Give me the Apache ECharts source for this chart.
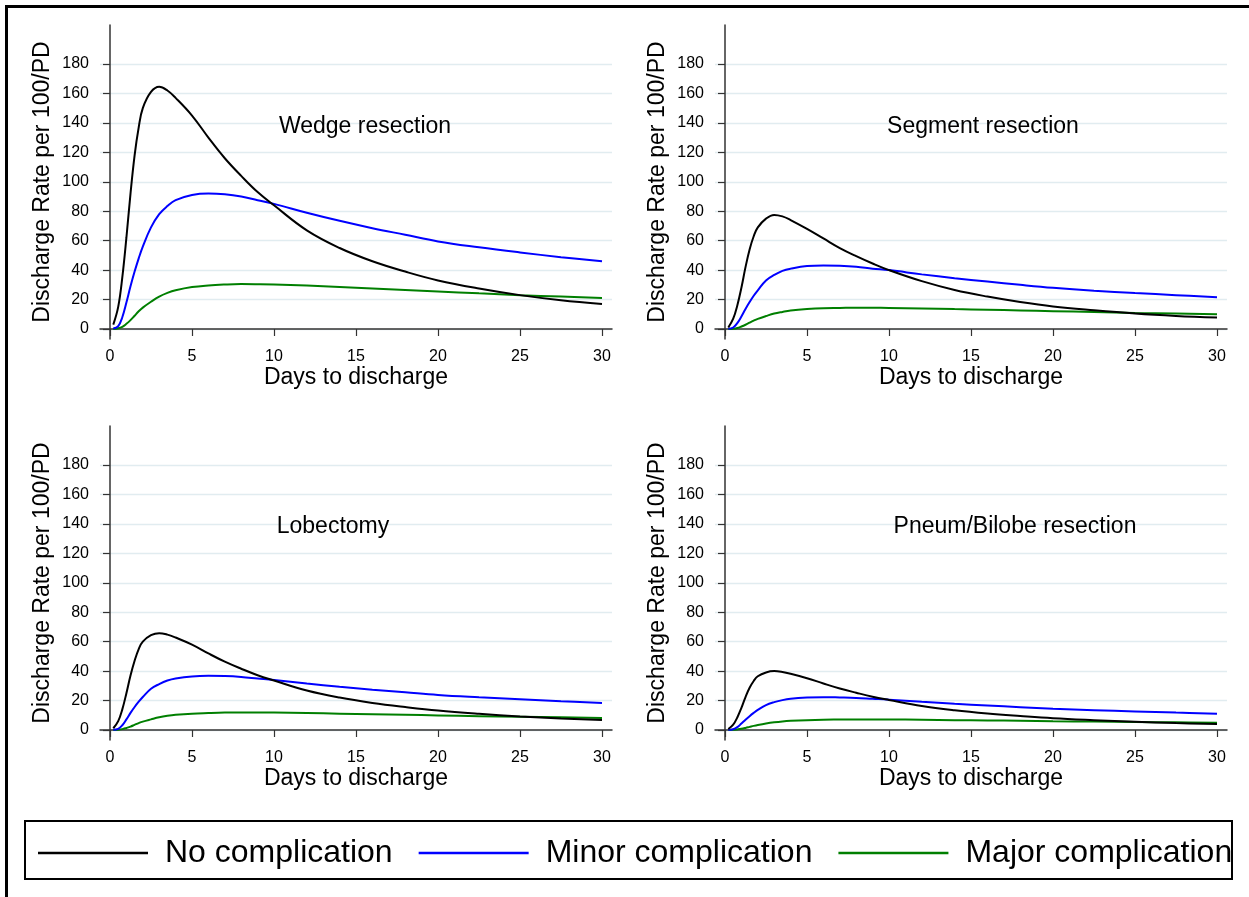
<!DOCTYPE html>
<html>
<head>
<meta charset="utf-8">
<script src="https://cdn.jsdelivr.net/npm/echarts@6/dist/echarts.min.js"></script>
<style>
  html, body { margin: 0; padding: 0; background: #fff; }
  #chart { width: 1249px; height: 897px; }
</style>
</head>
<body>
<div id="chart"></div>
<script>
// days since surgery at which the curves were read
const days = [0.2, 0.5, 0.75, 1, 1.25, 1.5, 1.75, 2, 2.5, 3, 3.5, 4, 5, 6, 7, 8, 9, 10, 12, 14, 16, 18, 20, 22.5, 25, 27.5, 30];

const wedgeNone  = [3, 15, 35, 62, 92, 118, 137, 150, 161, 164.5, 162, 157, 145, 130, 116, 104, 93, 84, 67, 55, 46, 39, 33, 27.5, 23, 19.5, 17];
const wedgeMinor = [0.3, 2, 8, 18, 29, 39, 48, 56, 69, 78, 83.5, 87.5, 91, 92, 91.5, 90, 87.5, 85, 79, 73.5, 68.5, 64, 59.5, 55.5, 52, 48.8, 46];
const wedgeMajor = [0, 0.5, 1.5, 3.5, 6, 9, 12, 14.5, 18.5, 22, 24.5, 26.3, 28.5, 29.6, 30.2, 30.5, 30.4, 30.2, 29.5, 28.5, 27.5, 26.5, 25.5, 24.2, 23, 22, 21];

const segNone  = [1, 7, 16, 28, 42, 54, 63, 69, 75, 77.5, 76.5, 74, 68, 61.5, 55, 49.5, 44.5, 40, 32.5, 26.5, 22, 18.3, 15.3, 12.7, 10.5, 8.9, 7.8];
const segMinor = [0.1, 1, 4, 8.5, 13.6, 18.3, 22.6, 26.3, 33, 36.7, 39.5, 41, 42.8, 43.2, 43, 42.3, 41, 40, 37.1, 34.5, 32.2, 30, 28, 26, 24.4, 23, 21.6];
const segMajor = [0, 0.2, 0.7, 1.7, 2.9, 4.3, 5.7, 6.9, 8.8, 10.5, 11.6, 12.5, 13.5, 14.1, 14.3, 14.5, 14.4, 14.3, 14, 13.5, 13.1, 12.6, 12.1, 11.5, 10.9, 10.5, 10];

const lobNone  = [1.2, 6, 14, 25, 37, 47, 55, 60, 64.4, 65.8, 64.8, 62.8, 58, 52, 46.4, 41.6, 37.2, 33.6, 26.8, 22, 18.4, 15.6, 13.2, 11, 9.2, 7.8, 6.8];
const lobMinor = [0.1, 0.8, 3.2, 7.2, 11.6, 15.6, 19.2, 22.4, 28, 31.2, 33.6, 35, 36.4, 36.8, 36.6, 36, 35, 34, 31.6, 29.4, 27.4, 25.6, 23.8, 22.2, 20.8, 19.5, 18.4];
const lobMajor = [0, 0.2, 0.6, 1.4, 2.3, 3.5, 4.7, 5.7, 7.2, 8.6, 9.6, 10.3, 11.1, 11.5, 11.8, 11.9, 11.9, 11.8, 11.5, 11.1, 10.7, 10.3, 9.9, 9.4, 9, 8.6, 8.2];

const pneumNone  = [0.7, 3.6, 8.5, 15, 22.4, 28.7, 33.3, 36.5, 39.1, 40, 39.4, 38.2, 35.2, 31.6, 28.2, 25.3, 22.6, 20.4, 16.3, 13.4, 11.2, 9.5, 8, 6.7, 5.6, 4.7, 4.1];
const pneumMinor = [0.1, 0.5, 1.9, 4.4, 7, 9.4, 11.6, 13.6, 16.9, 18.9, 20.3, 21.2, 22, 22.3, 22.1, 21.8, 21.2, 20.6, 19.1, 17.8, 16.6, 15.5, 14.4, 13.4, 12.6, 11.8, 11.1];
const pneumMajor = [0, 0.1, 0.4, 0.8, 1.4, 2.1, 2.8, 3.4, 4.4, 5.2, 5.8, 6.2, 6.7, 7, 7.1, 7.2, 7.2, 7.1, 7, 6.7, 6.5, 6.3, 6, 5.7, 5.4, 5.2, 5];

const panelTitles = ["Wedge resection", "Segment resection", "Lobectomy", "Pneum/Bilobe resection"];
const groupNames = ["No complication", "Minor complication", "Major complication"];
const xTicks = [0, 5, 10, 15, 20, 25, 30];
const yTicks = [0, 20, 40, 60, 80, 100, 120, 140, 160, 180];

const panelData = [
  [wedgeNone, wedgeMinor, wedgeMajor],
  [segNone, segMinor, segMajor],
  [lobNone, lobMinor, lobMajor],
  [pneumNone, pneumMinor, pneumMajor],
];

const FONT = "'Liberation Sans', Arial, Helvetica, sans-serif";
const colors = ["#000000", "#0000ff", "#007f00"];

// panel layout (pixels)
const gridPos = [
  { left: 100, top: 25 },
  { left: 715, top: 25 },
  { left: 100, top: 426 },
  { left: 715, top: 426 },
];
const titlePos = [
  { x: 365, y: 115 },
  { x: 983, y: 115 },
  { x: 333, y: 515 },
  { x: 1015, y: 515 },
];

const grids = [], xAxes = [], yAxes = [], series = [], titles = [];

gridPos.forEach((p, i) => {
  grids.push({ left: p.left, top: p.top, width: 512, height: 314, containLabel: false });

  xAxes.push({
    type: "value",
    gridIndex: i,
    min: -0.61,
    max: 30.61,
    name: "Days to discharge",
    nameLocation: "middle",
    nameGap: 25,
    nameTextStyle: { fontFamily: FONT, fontSize: 23, color: "#000" },
    axisLine: { show: true, lineStyle: { color: "#333", width: 1.5 } },
    axisTick: { show: true, length: 7, customValues: xTicks, lineStyle: { color: "#333", width: 1.2 } },
    axisLabel: { customValues: xTicks, margin: 10, fontFamily: FONT, fontSize: 16, color: "#000" },
    splitLine: { show: false },
  });

  yAxes.push({
    type: "value",
    gridIndex: i,
    min: -6.8,
    max: 206.5,
    name: "Discharge Rate per 100/PD",
    nameLocation: "middle",
    nameGap: 46,
    nameTextStyle: { fontFamily: FONT, fontSize: 23, color: "#000" },
    axisLine: { show: true, lineStyle: { color: "#333", width: 1.5 } },
    axisTick: { show: true, length: 7, customValues: yTicks, lineStyle: { color: "#333", width: 1.2 } },
    axisLabel: { customValues: yTicks, margin: 11, fontFamily: FONT, fontSize: 16, color: "#000" },
    splitLine: { show: true, lineStyle: { color: "#e1ecf0", width: 1.3 } },
  });

  titles.push({
    text: panelTitles[i],
    left: titlePos[i].x,
    top: titlePos[i].y,
    textAlign: "center",
    padding: 0,
    textStyle: { fontFamily: FONT, fontSize: 23, fontWeight: "normal", color: "#000" },
  });

  panelData[i].forEach((vals, k) => {
    series.push({
      name: groupNames[k],
      type: "line",
      xAxisIndex: i,
      yAxisIndex: i,
      data: days.map((d, j) => [d, vals[j]]),
      smooth: 0.4,
      showSymbol: false,
      symbol: "none",
      color: colors[k],
      lineStyle: { color: colors[k], width: 2 },
      z: 3 - k,
    });
  });
});

const chart = echarts.init(document.getElementById("chart"), null, { renderer: "canvas" });
chart.setOption({
  animation: false,
  backgroundColor: "#fff",
  title: titles,
  grid: grids,
  xAxis: xAxes,
  yAxis: yAxes,
  series: series,
  legend: {
    data: groupNames,
    left: 38,
    top: 837,
    padding: 0,
    icon: "rect",
    itemWidth: 110,
    itemHeight: 2.5,
    itemGap: 26,
    textStyle: { fontFamily: FONT, fontSize: 32, color: "#000", padding: [0, 0, 0, 12] },
  },
  graphic: [
    // outer frame (cut off at right and bottom like the source image)
    {
      type: "rect",
      shape: { x: 6.5, y: 6.5, width: 1400, height: 1000 },
      style: { fill: "none", stroke: "#000", lineWidth: 3 },
      silent: true,
    },
    // legend box
    {
      type: "rect",
      shape: { x: 25, y: 821, width: 1207, height: 58 },
      style: { fill: "none", stroke: "#000", lineWidth: 2 },
      silent: true,
    },
  ],
});
</script>
</body>
</html>
